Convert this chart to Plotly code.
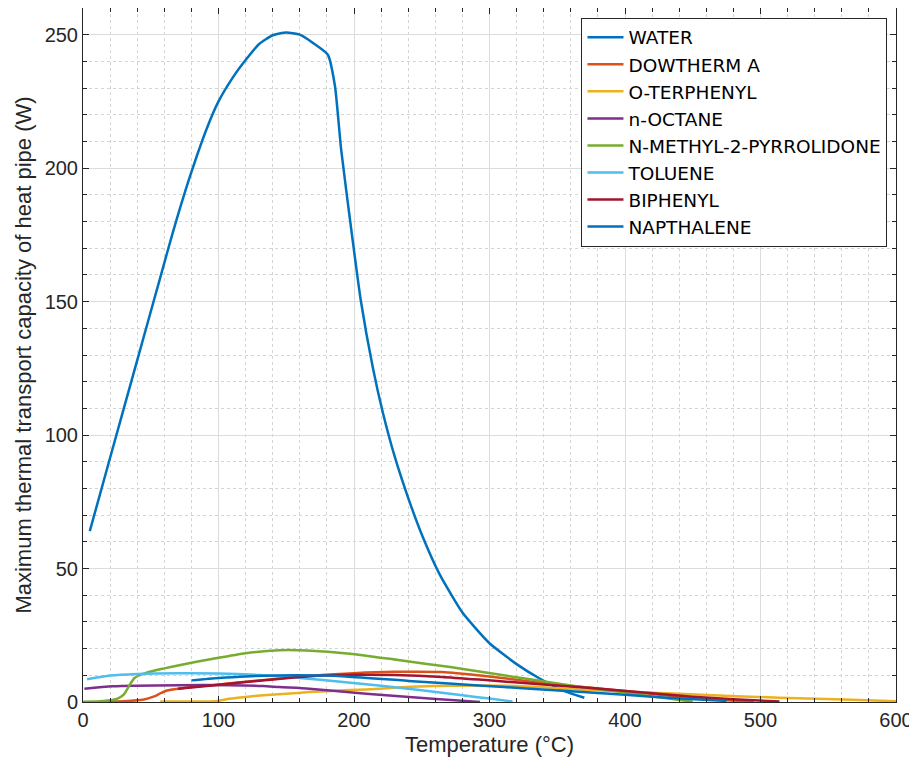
import plotly.graph_objects as go

# ---- data ----
water_T = [5, 20, 40, 57, 63, 69, 79, 91, 100, 111, 120, 130, 140, 150, 160, 170, 180.7,
           186, 190.5, 199, 205, 214, 221, 230, 241, 251, 263, 280, 300, 320, 337, 355, 370]
water_W = [64, 91.5, 128, 159, 170, 180.6, 197, 214.4, 225, 234.3, 240.5, 246.5, 249.8, 250.8, 250, 246.8, 242.5,
           230.6, 207, 173, 150.5, 125, 109, 92, 75, 61.5, 48, 33.5, 22, 14.2, 8.8, 4.2, 1.6]

dow_T = [16, 30, 45, 52, 57, 62, 71, 95, 130, 165, 200, 230, 265, 295, 330, 360, 390, 420, 450, 475, 495]
dow_W = [0.2, 0.3, 0.9, 2.0, 3.2, 4.3, 5.0, 6.3, 8.1, 9.7, 10.8, 11.3, 11.2, 9.8, 7.7, 6.0, 4.6, 3.0, 1.6, 0.7, 0.1]

oterp_T = [57, 75, 98, 108, 120, 133, 150, 167, 185, 209, 235, 258, 290, 320, 366, 400, 440, 482, 514, 568, 600]
oterp_W = [0.2, 0.2, 0.3, 1.2, 1.9, 2.5, 3.1, 3.7, 4.2, 4.7, 5.5, 6.0, 6.2, 6.0, 4.7, 3.9, 3.1, 2.2, 1.6, 0.8, 0.3]

octane_T = [1, 22, 71, 108, 133, 145, 167, 209, 258, 293]
octane_W = [5.0, 5.9, 6.3, 6.3, 6.0, 5.6, 5.0, 3.1, 1.25, 0.0]

nmp_T = [0, 15, 25, 30, 34, 38, 47, 60, 71, 96, 120, 145, 165, 197, 234, 271, 307, 330, 360, 396, 425, 450]
nmp_W = [0.1, 0.4, 1.2, 2.8, 6.0, 9.0, 11.0, 12.6, 13.8, 16.2, 18.3, 19.4, 19.3, 18.1, 15.6, 13.1, 10.3, 8.5, 6.2, 3.8, 1.8, 0.1]

tol_T = [3, 20, 40, 70, 100, 130, 160, 190, 220, 250, 280, 300, 317]
tol_W = [8.5, 9.9, 10.5, 10.8, 10.7, 10.1, 9.0, 7.6, 6.1, 4.4, 2.5, 1.3, 0.2]

biph_T = [70, 95, 130, 165, 200, 230, 265, 295, 330, 360, 390, 420, 450, 480, 514]
biph_W = [5.0, 6.2, 8.0, 9.6, 10.2, 10.1, 9.4, 8.3, 6.9, 5.8, 4.6, 3.3, 2.0, 1.0, 0.2]

naph_T = [80, 100, 120, 157, 194, 243, 292, 330, 366, 400, 440, 475]
naph_W = [8.1, 9.0, 9.6, 10.0, 9.6, 7.8, 6.2, 5.0, 3.8, 2.7, 1.3, 0.4]

names = ["WATER", "DOWTHERM A", "O-TERPHENYL", "n-OCTANE", "N-METHYL-2-PYRROLIDONE",
         "TOLUENE", "BIPHENYL", "NAPTHALENE"]
colors = ["#0072BD", "#D95319", "#EDB120", "#7E2F8E", "#77AC30", "#4DBEEE", "#A2142F", "#0072BD"]

series = [(water_T, water_W), (dow_T, dow_W), (oterp_T, oterp_W), (octane_T, octane_W),
          (nmp_T, nmp_W), (tol_T, tol_W), (biph_T, biph_W), (naph_T, naph_W)]

fig = go.Figure()
for i, ((t, w), n, c) in enumerate(zip(series, names, colors)):
    line = dict(color=c, width=2.5, shape="spline", smoothing=0.5 if i == 0 else 0.6)
    fig.add_trace(go.Scatter(x=t, y=w, mode="lines", name=n, line=line))

axis_common = dict(
    showline=True, linecolor="#262626", linewidth=1, mirror="allticks",
    ticks="inside", ticklen=6, tickcolor="#262626",
    showgrid=True, gridcolor="#dcdcdc", gridwidth=1,
    zeroline=False, automargin=False,
    tickfont=dict(family="Arial", size=20, color="#262626"),
)

fig.update_xaxes(
    range=[0, 600], dtick=100, tick0=0,
    minor=dict(dtick=20, showgrid=True, gridcolor="#d4d4d4", griddash="dot",
               ticks="inside", ticklen=4, tickcolor="#262626"),
    title=dict(text="Temperature (°C)", font=dict(family="Arial", size=22, color="#262626"), standoff=6),
    **axis_common,
)
fig.update_yaxes(
    range=[0, 260], dtick=50, tick0=0,
    minor=dict(dtick=10, showgrid=True, gridcolor="#d4d4d4", griddash="dot",
               ticks="inside", ticklen=4, tickcolor="#262626"),
    title=dict(text="Maximum thermal transport capacity of heat pipe (W)",
               font=dict(family="Arial", size=22, color="#262626"), standoff=6),
    **axis_common,
)

# page body has an 8px margin, so the figure is sized/offset accordingly
fig.update_layout(
    width=909, height=762,
    margin=dict(l=75, r=21, t=0, b=68),
    plot_bgcolor="white", paper_bgcolor="white",
    legend=dict(
        x=0.9895, y=0.986, xanchor="right", yanchor="top",
        bgcolor="white", bordercolor="#262626", borderwidth=1,
        font=dict(family="DejaVu Sans", size=18.5, color="#000000"),
        tracegroupgap=0, itemwidth=36,
    ),
)

fig.write_html("out.html")
